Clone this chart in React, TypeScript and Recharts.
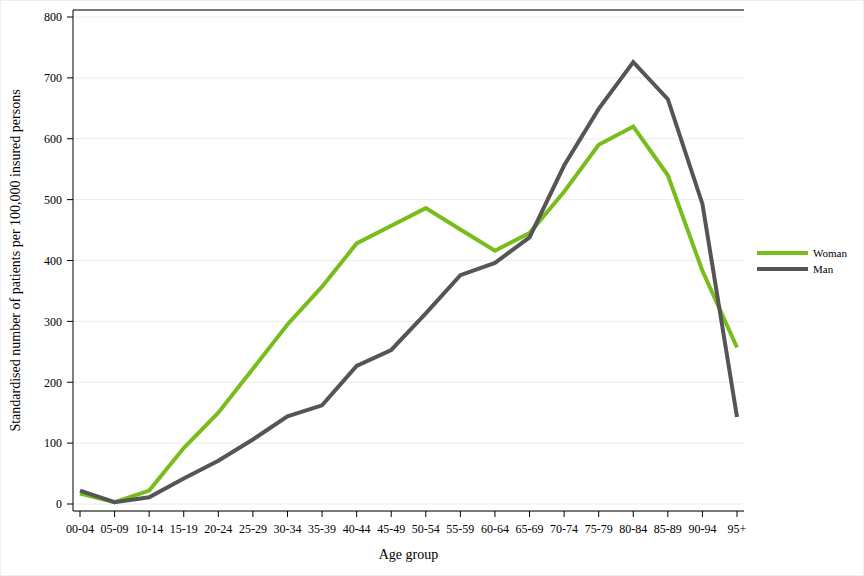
import {
  CartesianGrid,
  Label,
  Legend,
  Line,
  LineChart,
  XAxis,
  YAxis,
} from "recharts";

const ageGroups = [
  "00-04", "05-09", "10-14", "15-19", "20-24", "25-29", "30-34", "35-39",
  "40-44", "45-49", "50-54", "55-59", "60-64", "65-69", "70-74", "75-79",
  "80-84", "85-89", "90-94", "95+",
];

const woman = [
  17, 3, 22, 92, 150, 222, 295, 357, 428, 457, 486, 451, 416, 445, 513, 590,
  620, 540, 383, 257,
];

const man = [
  22, 3, 11, 42, 71, 106, 144, 162, 227, 253, 313, 376, 396, 438, 556, 649,
  726, 665, 493, 143,
];

const yTicks = [0, 100, 200, 300, 400, 500, 600, 700, 800];

const GREEN = "#79bd1c";
const GREY = "#555555";
const FONT = "'Liberation Serif', 'DejaVu Serif', serif";

const data = ageGroups.map((g, i) => ({ group: g, woman: woman[i], man: man[i] }));

const seriesInfo = [
  { label: "Woman", color: GREEN },
  { label: "Man", color: GREY },
];

function LegendBox() {
  return (
    <div style={{ fontFamily: FONT, fontSize: 11, color: "#000" }}>
      {seriesInfo.map((s) => (
        <div key={s.label} style={{ display: "flex", alignItems: "center", height: 16 }}>
          <div style={{ width: 51, height: 4, background: s.color, marginRight: 5 }} />
          <span>{s.label}</span>
        </div>
      ))}
    </div>
  );
}

export default function App() {
  return (
    <div
      style={{
        position: "absolute",
        left: 0,
        top: 0,
        width: 862,
        height: 574,
        background: "#fff",
        border: "1px solid #eeeeee",
      }}
    >
      <LineChart
        width={862}
        height={574}
        data={data}
        margin={{ top: 8, right: 119, bottom: 34, left: 0 }}
      >
        <CartesianGrid horizontal vertical={false} stroke="#ececec" strokeWidth={1} />
        <XAxis
          dataKey="group"
          interval={0}
          padding={{ left: 7, right: 7 }}
          tick={{ fontSize: 12, fill: "#000", fontFamily: FONT }}
          tickLine={{ stroke: "#000" }}
          tickSize={6}
          tickMargin={7}
          axisLine={{ stroke: "#000" }}
          height={30}
        >
          <Label
            value="Age group"
            position="bottom"
            offset={8}
            style={{ fontSize: 14, fill: "#000", fontFamily: FONT }}
          />
        </XAxis>
        <XAxis
          xAxisId="top"
          orientation="top"
          dataKey="group"
          tick={false}
          tickLine={false}
          axisLine={{ stroke: "#000" }}
          height={1}
        />
        <YAxis
          domain={[0, 800]}
          ticks={yTicks}
          padding={{ top: 7, bottom: 7 }}
          tick={{ fontSize: 12, fill: "#000", fontFamily: FONT }}
          tickLine={{ stroke: "#000" }}
          tickSize={6}
          tickMargin={5}
          axisLine={{ stroke: "#000" }}
          width={72}
        >
          <Label
            value="Standardised number of patients per 100,000 insured persons"
            angle={-90}
            position="insideLeft"
            offset={14}
            style={{ fontSize: 14, fill: "#000", fontFamily: FONT, textAnchor: "middle" }}
          />
        </YAxis>
        <YAxis
          yAxisId="right"
          orientation="right"
          domain={[0, 800]}
          tick={false}
          tickLine={false}
          axisLine={{ stroke: "#808080" }}
          width={0}
        />
        <Legend
          layout="vertical"
          align="center"
          verticalAlign="middle"
          content={() => <LegendBox />}
          wrapperStyle={{ position: "absolute", left: 756, top: 244, width: 100 }}
        />
        <Line
          type="linear"
          dataKey="woman"
          name="Woman"
          stroke={GREEN}
          strokeWidth={4}
          dot={false}
          isAnimationActive={false}
        />
        <Line
          type="linear"
          dataKey="man"
          name="Man"
          stroke={GREY}
          strokeWidth={4}
          dot={false}
          isAnimationActive={false}
        />
      </LineChart>
    </div>
  );
}
